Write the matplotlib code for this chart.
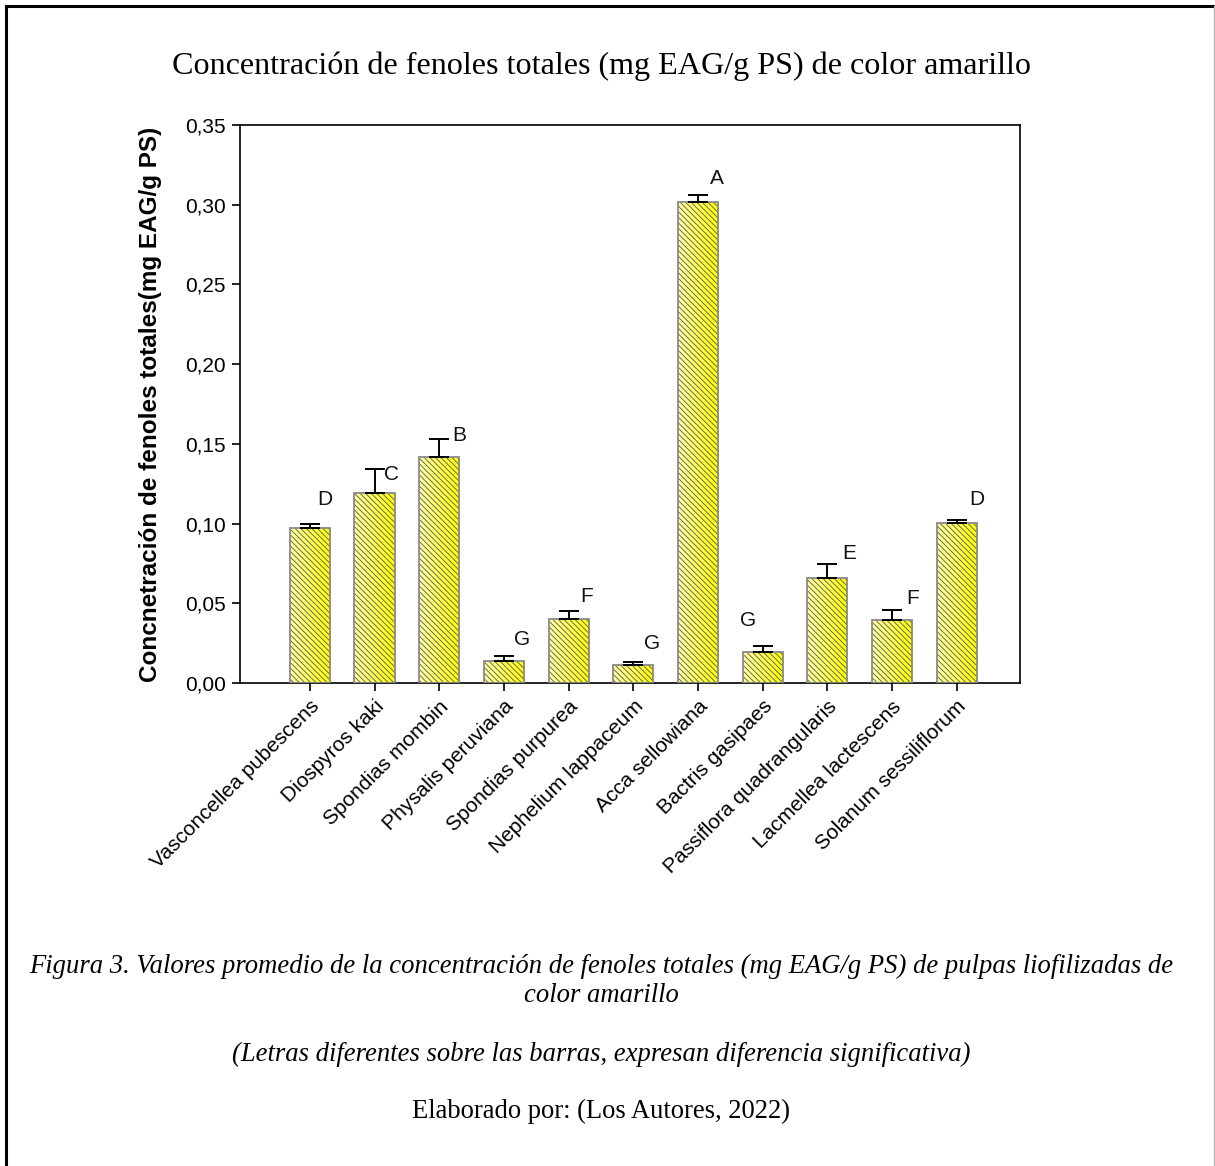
import numpy as np
import matplotlib
matplotlib.use("Agg")
import matplotlib.pyplot as plt
from matplotlib.lines import Line2D

species = ["Vasconcellea pubescens", "Diospyros kaki", "Spondias mombin",
           "Physalis peruviana", "Spondias purpurea", "Nephelium lappaceum",
           "Acca sellowiana", "Bactris gasipaes", "Passiflora quadrangularis",
           "Lacmellea lactescens", "Solanum sessiliflorum"]
means = [0.097, 0.119, 0.142, 0.0138, 0.0401, 0.0113, 0.302, 0.0194, 0.0659, 0.0395, 0.1004]
errors = [0.003, 0.015, 0.011, 0.003, 0.005, 0.002, 0.004, 0.004, 0.009, 0.006, 0.002]
letters = ["D", "C", "B", "G", "F", "G", "A", "G", "E", "F", "D"]
letter_dx = [0.23, 0.27, 0.31, 0.28, 0.28, 0.29, 0.29, -0.23, 0.34, 0.32, 0.31]
letter_y = [0.1148, 0.131, 0.155, 0.027, 0.054, 0.0245, 0.3167, 0.0389, 0.0815, 0.0533, 0.1154]
yticks = [0.0, 0.05, 0.10, 0.15, 0.20, 0.25, 0.30, 0.35]
ytick_labels = ["0,00", "0,05", "0,10", "0,15", "0,20", "0,25", "0,30", "0,35"]

W, H = 1215, 1166
fig = plt.figure(figsize=(W / 100, H / 100), dpi=100)
fig.patch.set_facecolor("white")

# page frame
fig.add_artist(Line2D([5.5 / W, 5.5 / W], [0, 1 - 5.5 / H], transform=fig.transFigure, color="black", lw=2.2))
fig.add_artist(Line2D([5.5 / W, 1], [1 - 5.5 / H, 1 - 5.5 / H], transform=fig.transFigure, color="black", lw=2.2))
fig.add_artist(Line2D([1 - 1.5 / W, 1 - 1.5 / W], [0, 1 - 5.5 / H], transform=fig.transFigure, color="#bbbbbb", lw=1))

ax = fig.add_axes([240 / W, 1 - 683 / H, 780 / W, 558 / H])
x = np.arange(len(species))
bw = 0.62

ax.set_xlim(-1.08, len(species) - 1 + 0.98)
ax.set_ylim(0, 0.35)

grad = np.linspace(0, 1, 64).reshape(1, -1)
c0 = np.array([1.0, 1.0, 0.66])
c1 = np.array([1.0, 1.0, 0.0])
img = c0[None, None, :] * (1 - grad[..., None]) + c1[None, None, :] * grad[..., None]

bars = ax.bar(x, means, width=bw, facecolor="none", edgecolor="none", zorder=2)
for b in bars:
    x0, y0 = b.get_x(), b.get_y()
    w, h = b.get_width(), b.get_height()
    im = ax.imshow(img, extent=[x0, x0 + w, y0, y0 + h], aspect="auto", zorder=1.5, interpolation="bilinear")
    im.set_clip_path(b)
plt.rcParams["hatch.linewidth"] = 0.6
ax.bar(x, means, width=bw, facecolor="none", edgecolor="#555555", linewidth=0, hatch="\\\\\\\\\\\\", zorder=2.5)
ax.bar(x, means, width=bw, facecolor="none", edgecolor="#8a8a8a", linewidth=1.3, zorder=3)
ax.set_aspect("auto")

ax.errorbar(x, means, yerr=[np.zeros(len(means)), errors], fmt="none", ecolor="black",
            elinewidth=1.4, capsize=7, capthick=1.4, zorder=4)

for xi, dx, ly, lt in zip(x, letter_dx, letter_y, letters):
    ax.text(xi + dx, ly, lt, ha="center", va="center", fontsize=15,
            family="Liberation Sans", color="#111111")

ax.set_yticks(yticks)
ax.set_yticklabels(ytick_labels, family="Liberation Sans", fontsize=15)
ax.set_xticks(x)
ax.set_xticklabels(species, rotation=45, ha="right", va="top", rotation_mode="anchor",
                   family="Liberation Sans", fontsize=15)
ax.tick_params(axis="both", direction="out", length=6, width=1.2, colors="black")
ax.tick_params(axis="x", pad=4)
ax.tick_params(axis="y", pad=4)
for s in ax.spines.values():
    s.set_linewidth(1.2)

ax.set_ylabel("Concnetración de fenoles totales(mg EAG/g PS)", family="Liberation Sans",
              fontsize=17.5, fontweight="bold", labelpad=17)

fig.text(601 / W, 1 - 66 / H, "Concentración de fenoles totales (mg EAG/g PS) de color amarillo",
         ha="center", va="center", family="Liberation Serif", fontsize=23.1)

fig.text(601 / W, 1 - 966 / H,
         "Figura 3. Valores promedio de la concentración de fenoles totales (mg EAG/g PS) de pulpas liofilizadas de",
         ha="center", va="center", family="Liberation Serif", style="italic", fontsize=19.2)
fig.text(601 / W, 1 - 996 / H, "color amarillo",
         ha="center", va="center", family="Liberation Serif", style="italic", fontsize=19.2)
fig.text(601 / W, 1 - 1054 / H,
         "(Letras diferentes sobre las barras, expresan diferencia significativa)",
         ha="center", va="center", family="Liberation Serif", style="italic", fontsize=19.2)
fig.text(601 / W, 1 - 1111 / H, "Elaborado por: (Los Autores, 2022)",
         ha="center", va="center", family="Liberation Serif", fontsize=19.2)

fig.savefig("out.png", dpi=100, facecolor="white")
